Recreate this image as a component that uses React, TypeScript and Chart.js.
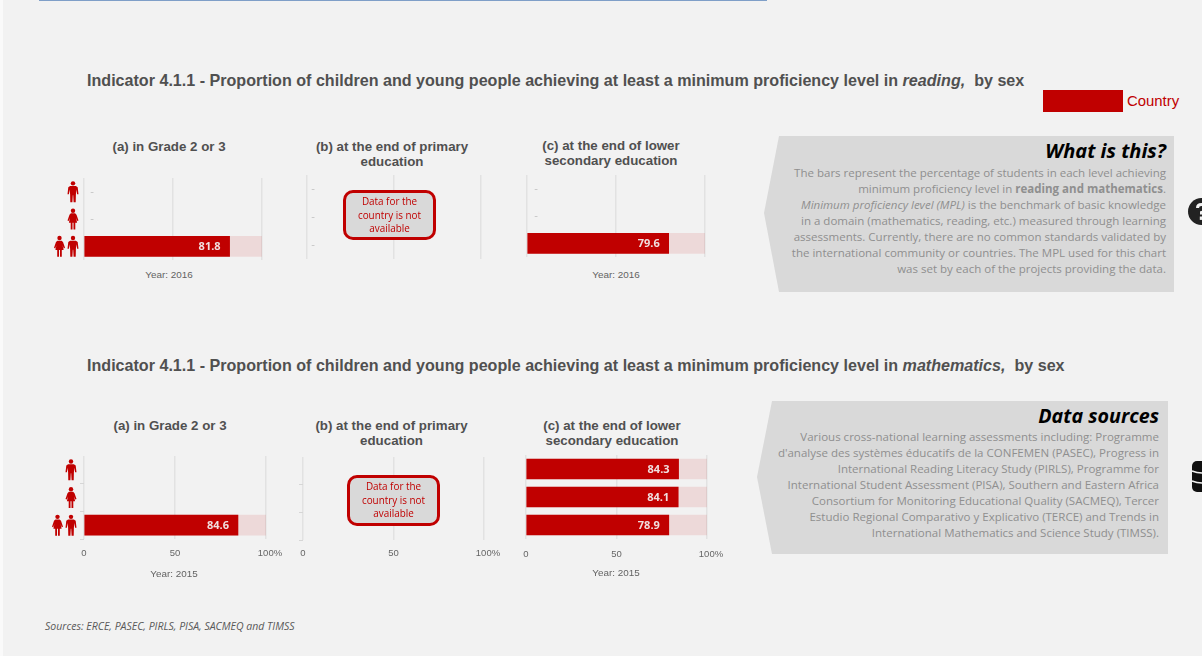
import React, { useEffect, useRef } from "react";
import { Chart, registerables } from "chart.js";

Chart.register(...registerables);

const RED = "#c00000";
const TRACK = "rgba(192,0,0,0.1)";
const GRID = "#e2e2e2";
const OPEN = '"Open Sans", sans-serif';
const ARIAL = '"Liberation Sans", Arial, sans-serif';

// data
const categories = ["Male", "Female", "Both sexes"];
const xTickValues = [0, 50, 100];
const readingGrade23 = [null, null, 81.8];
const readingPrimary = [null, null, null];
const readingLower = [null, null, 79.6];
const mathGrade23 = [null, null, 84.6];
const mathPrimary = [null, null, null];
const mathLower = [84.3, 84.1, 78.9];
const readingGrade23Track = [null, null, 100];
const readingPrimaryTrack = [null, null, null];
const readingLowerTrack = [null, null, 100];
const mathGrade23Track = [null, null, 100];
const mathPrimaryTrack = [null, null, null];
const mathLowerTrack = [100, 100, 100];

function drawPerson(ctx: CanvasRenderingContext2D, cx: number, cy: number, female: boolean) {
  ctx.save();
  ctx.translate(cx - 5.5, cy - 10.5);
  ctx.fillStyle = RED;
  ctx.beginPath();
  ctx.arc(5.5, 2.2, 2.2, 0, Math.PI * 2);
  ctx.fill();
  ctx.beginPath();
  if (female) {
    ctx.moveTo(3.4, 4.8);
    ctx.lineTo(7.6, 4.8);
    ctx.lineTo(9, 6.2);
    ctx.lineTo(11, 12);
    ctx.lineTo(9.8, 12.6);
    ctx.lineTo(8.6, 9.4);
    ctx.lineTo(9.6, 14.2);
    ctx.lineTo(7.8, 14.2);
    ctx.lineTo(7.8, 21);
    ctx.lineTo(6, 21);
    ctx.lineTo(6, 14.2);
    ctx.lineTo(5, 14.2);
    ctx.lineTo(5, 21);
    ctx.lineTo(3.2, 21);
    ctx.lineTo(3.2, 14.2);
    ctx.lineTo(1.4, 14.2);
    ctx.lineTo(2.4, 9.4);
    ctx.lineTo(1.2, 12.6);
    ctx.lineTo(0, 12);
    ctx.lineTo(2, 6.2);
  } else {
    ctx.moveTo(2.6, 4.8);
    ctx.lineTo(8.4, 4.8);
    ctx.lineTo(10.2, 6.2);
    ctx.lineTo(11, 13);
    ctx.lineTo(9.6, 13);
    ctx.lineTo(8.9, 8.4);
    ctx.lineTo(8.4, 13);
    ctx.lineTo(8.2, 21);
    ctx.lineTo(6.1, 21);
    ctx.lineTo(5.7, 14);
    ctx.lineTo(5.3, 14);
    ctx.lineTo(4.9, 21);
    ctx.lineTo(2.8, 21);
    ctx.lineTo(2.6, 13);
    ctx.lineTo(2.1, 8.4);
    ctx.lineTo(1.4, 13);
    ctx.lineTo(0, 13);
    ctx.lineTo(0.8, 6.2);
  }
  ctx.closePath();
  ctx.fill();
  ctx.restore();
}

const marksPlugin = {
  id: "marks",
  afterDatasetsDraw(chart: any, _args: any, opts: any) {
    const { ctx, scales } = chart;
    const values: (number | null)[] = chart.data.datasets[1].data;
    ctx.save();
    values.forEach((v, i) => {
      const y = scales.y.getPixelForValue(i);
      if (v === null) {
        if (opts.dashX !== undefined) {
          ctx.font = `11px ${ARIAL}`;
          ctx.fillStyle = "#c4c4c4";
          ctx.textAlign = "center";
          ctx.textBaseline = "middle";
          ctx.fillText("-", scales.x.getPixelForValue(0) + opts.dashX, y);
        }
      } else {
        ctx.font = `bold 11px ${OPEN}`;
        ctx.fillStyle = "#f0dfdf";
        ctx.textAlign = "right";
        ctx.textBaseline = "middle";
        ctx.fillText(v.toFixed(1), scales.x.getPixelForValue(v) - 9, y + 1);
      }
      if (opts.iconX !== undefined) {
        const x = scales.x.left + opts.iconX;
        const label = categories[i];
        if (label === "Male") drawPerson(ctx, x, y, false);
        else if (label === "Female") drawPerson(ctx, x, y, true);
        else {
          drawPerson(ctx, x, y, false);
          drawPerson(ctx, x - 13.5, y, true);
        }
      }
    });
    ctx.restore();
  },
};

type PanelProps = {
  x0: number;
  x100: number;
  top: number;
  bottom: number;
  values: (number | null)[];
  track: (number | null)[];
  showTicks?: boolean;
  showYTicks?: boolean;
  tickPad?: number;
  dashX?: number;
  iconX?: number;
};

function Panel({ x0, x100, top, bottom, values, track, showTicks, showYTicks, tickPad, dashX, iconX }: PanelProps) {
  const ref = useRef<HTMLCanvasElement>(null);
  const padLeft = 40;
  const padRight = 24;
  const below = showTicks ? 26 : 2;
  useEffect(() => {
    const chart = new Chart(ref.current as HTMLCanvasElement, {
      type: "bar",
      data: {
        labels: categories,
        datasets: [
          { data: track as any, backgroundColor: TRACK, barThickness: 20, order: 2 },
          { data: values as any, backgroundColor: RED, barThickness: 20, order: 1 },
        ],
      },
      plugins: [marksPlugin as any],
      options: {
        indexAxis: "y",
        responsive: false,
        animation: false,
        devicePixelRatio: 1,
        layout: { padding: { left: padLeft, right: padRight, top: 0, bottom: 0 } },
        datasets: { bar: { grouped: false } as any },
        plugins: {
          legend: { display: false },
          tooltip: { enabled: false },
          title: { display: false },
          marks: { dashX, iconX },
        } as any,
        scales: {
          x: {
            type: "linear",
            min: 0,
            max: 100,
            border: { display: false },
            afterBuildTicks: (s: any) => {
              s.ticks = xTickValues.map((value) => ({ value }));
            },
            afterFit: (s: any) => {
              s.height = below;
              s.paddingLeft = 0;
              s.paddingRight = 0;
            },
            grid: { color: GRID, lineWidth: 1.5, drawTicks: false },
            ticks: {
              display: !!showTicks,
              padding: tickPad ?? 9,
              maxRotation: 0,
              color: "#666666",
              font: { family: ARIAL, size: 9.5 },
              callback: (v: any) => (v === 100 ? "   100%" : String(v)),
            },
          },
          y: {
            type: "category",
            border: { display: false },
            afterFit: (s: any) => {
              s.width = 0;
            },
            grid: {
              drawOnChartArea: false,
              drawTicks: !!showYTicks,
              tickLength: 4,
              color: "#d6d6d6",
              lineWidth: 1,
            },
            ticks: { display: false },
          },
        },
      } as any,
    });
    return () => chart.destroy();
  }, []);
  return (
    <canvas
      ref={ref}
      width={padLeft + (x100 - x0) + padRight}
      height={bottom - top + below}
      style={{ position: "absolute", left: x0 - padLeft, top, display: "block" }}
    />
  );
}

function T({ x, y, size, color, bold, italic, font, align, children }: any) {
  // y = vertical centre of the line
  const style: any = {
    position: "absolute",
    top: y - 10,
    height: 20,
    lineHeight: "20px",
    whiteSpace: "pre",
    fontFamily: font || ARIAL,
    fontSize: size,
    color,
    fontWeight: bold ? 700 : 400,
    fontStyle: italic ? "italic" : "normal",
  };
  if (align === "center") {
    style.left = x - 300;
    style.width = 600;
    style.textAlign = "center";
  } else if (align === "right") {
    style.right = 1202 - x;
    style.textAlign = "right";
  } else {
    style.left = x;
  }
  return <div style={style}>{children}</div>;
}

const HEAD = { size: 16.1, color: "#505050", bold: true };
const SUB = { size: 13.3, color: "#505050", bold: true, align: "center" };
const YEAR = { size: 9.9, color: "#636363", align: "center" };

function NoData({ left, top, width, height }: any) {
  return (
    <div
      style={{
        position: "absolute",
        left,
        top,
        width,
        height,
        boxSizing: "border-box",
        border: `3px solid ${RED}`,
        borderRadius: 10,
        background: "#d9d9d9",
        color: RED,
        fontFamily: OPEN,
        fontSize: 9.9,
        lineHeight: "13.7px",
        textAlign: "center",
        paddingTop: 2,
      }}
    >
      Data for the
      <br />
      country is not
      <br />
      available
    </div>
  );
}

function Callout({ left, tip, right, top, bottom, tipY }: any) {
  const w = right - tip;
  const h = bottom - top;
  const bx = ((left - tip) / w) * 100;
  const ty = ((tipY - top) / h) * 100;
  return (
    <div
      style={{
        position: "absolute",
        left: tip,
        top,
        width: w,
        height: h,
        background: "#d9d9d9",
        clipPath: `polygon(${bx}% 0, 100% 0, 100% 100%, ${bx}% 100%, 0 ${ty}%)`,
      }}
    />
  );
}

const BODY = { size: 11.52, color: "#8f8f8f", font: OPEN, align: "right" };
const whatLines: any[] = [
  "The bars represent the percentage of students in each level achieving",
  <>
    minimum proficiency level in <b>reading and mathematics</b>.
  </>,
  <>
    <i>Minimum proficiency level (MPL)</i> is the benchmark of basic knowledge
  </>,
  "in a domain (mathematics, reading, etc.) measured through learning",
  "assessments. Currently, there are no common standards validated by",
  "the international community or countries. The MPL used for this chart",
  "was set by each of the projects providing the data.",
];
const sourceLines = [
  "Various cross-national learning assessments including: Programme",
  "d'analyse des systèmes éducatifs de la CONFEMEN (PASEC), Progress in",
  "International Reading Literacy Study (PIRLS), Programme for",
  "International Student Assessment (PISA), Southern and Eastern Africa",
  "Consortium for Monitoring Educational Quality (SACMEQ), Tercer",
  "Estudio Regional Comparativo y Explicativo (TERCE) and Trends in",
  "International Mathematics and Science Study (TIMSS).",
];
const sourceLineY = [437, 453, 469, 485, 501, 517, 533];

export default function App() {
  return (
    <div
      style={{
        position: "fixed",
        left: 0,
        top: 0,
        width: 1202,
        height: 656,
        overflow: "hidden",
        background: "#f2f2f2",
      }}
    >
      <div style={{ position: "absolute", left: 0, top: 0, width: 3, height: 656, background: "#fafafa" }} />
      <div style={{ position: "absolute", left: 39, top: 0, width: 728, height: 1, background: "#7f9fc8" }} />

      <T x={87} y={79.5} {...HEAD}>
        Indicator 4.1.1 - Proportion of children and young people achieving at least a minimum proficiency level in{" "}
        <i>reading,</i>{"  "}by sex
      </T>
      <T x={87} y={364.5} {...HEAD}>
        Indicator 4.1.1 - Proportion of children and young people achieving at least a minimum proficiency level in{" "}
        <i>mathematics,</i>{"  "}by sex
      </T>

      <div style={{ position: "absolute", left: 1043, top: 90, width: 80, height: 22, background: RED }} />
      <T x={1127} y={101} size={14.9} color={RED}>
        Country
      </T>

      <T x={169} y={146.5} {...SUB}>(a) in Grade 2 or 3</T>
      <T x={392} y={146.5} {...SUB}>(b) at the end of primary</T>
      <T x={392} y={161.5} {...SUB}>education</T>
      <T x={611} y={145.5} {...SUB}>(c) at the end of lower</T>
      <T x={611} y={160.5} {...SUB}>secondary education</T>

      <T x={170} y={425.5} {...SUB}>(a) in Grade 2 or 3</T>
      <T x={391.5} y={425.5} {...SUB}>(b) at the end of primary</T>
      <T x={391.5} y={440.5} {...SUB}>education</T>
      <T x={612} y={425.5} {...SUB}>(c) at the end of lower</T>
      <T x={612} y={440.5} {...SUB}>secondary education</T>

      <Panel x0={84} x100={262} top={178} bottom={260} values={readingGrade23} track={readingGrade23Track} dashX={8} iconX={-11} />
      <Panel x0={307} x100={481} top={175} bottom={259} values={readingPrimary} track={readingPrimaryTrack} dashX={6} />
      <Panel x0={527} x100={705} top={175} bottom={257} values={readingLower} track={readingLowerTrack} dashX={9} />

      <Panel x0={84} x100={266} top={456} bottom={539} values={mathGrade23} track={mathGrade23Track} showTicks showYTicks iconX={-13} />
      <Panel x0={303} x100={484} top={457} bottom={540} values={mathPrimary} track={mathPrimaryTrack} showTicks showYTicks tickPad={8} />
      <Panel x0={526} x100={707} top={455} bottom={539} values={mathLower} track={mathLowerTrack} showTicks tickPad={10} />

      <NoData left={343} top={190} width={93} height={50} />
      <NoData left={347} top={475} width={93} height={51} />

      <T x={169} y={275} {...YEAR}>Year: 2016</T>
      <T x={616} y={275} {...YEAR}>Year: 2016</T>
      <T x={174} y={574} {...YEAR}>Year: 2015</T>
      <T x={616} y={573} {...YEAR}>Year: 2015</T>

      <Callout tip={764} left={779} right={1174} top={136} bottom={292} tipY={213} />
      <Callout tip={757} left={772} right={1168} top={401} bottom={554} tipY={477} />

      <T x={1166} y={151} size={20} color="#000" bold italic font={OPEN} align="right">What is this?</T>
      {whatLines.map((line, i) => (
        <T key={i} x={1166} y={173 + i * 16} {...BODY}>{line}</T>
      ))}
      <T x={1159} y={416} size={19.7} color="#000" bold italic font={OPEN} align="right">Data sources</T>
      {sourceLines.map((line, i) => (
        <T key={i} x={1159} y={sourceLineY[i]} {...BODY}>{line}</T>
      ))}

      <svg style={{ position: "absolute", left: 1188, top: 198 }} width="14" height="27">
        <circle cx="13.5" cy="13.5" r="13.5" fill="#222" />
        <path d="M9.5 10 Q9.5 6.5 13.5 6.5 Q17.5 6.5 17.5 10 Q17.5 13 13.5 14.5 V16.5" stroke="#f2f2f2" strokeWidth="3" fill="none" />
        <rect x="11.8" y="18.5" width="3.4" height="3.4" fill="#f2f2f2" />
      </svg>
      <svg style={{ position: "absolute", left: 1190, top: 460 }} width="12" height="34">
        <rect x="2" y="1" width="20" height="31" rx="5" fill="#111" />
        <path d="M2 11 Q12 15 22 11 M2 21 Q12 25 22 21" stroke="#f2f2f2" strokeWidth="1.6" fill="none" />
      </svg>

      <T x={45} y={626} size={10.5} color="#595959" italic font={OPEN}>
        Sources: ERCE, PASEC, PIRLS, PISA, SACMEQ and TIMSS
      </T>
    </div>
  );
}
